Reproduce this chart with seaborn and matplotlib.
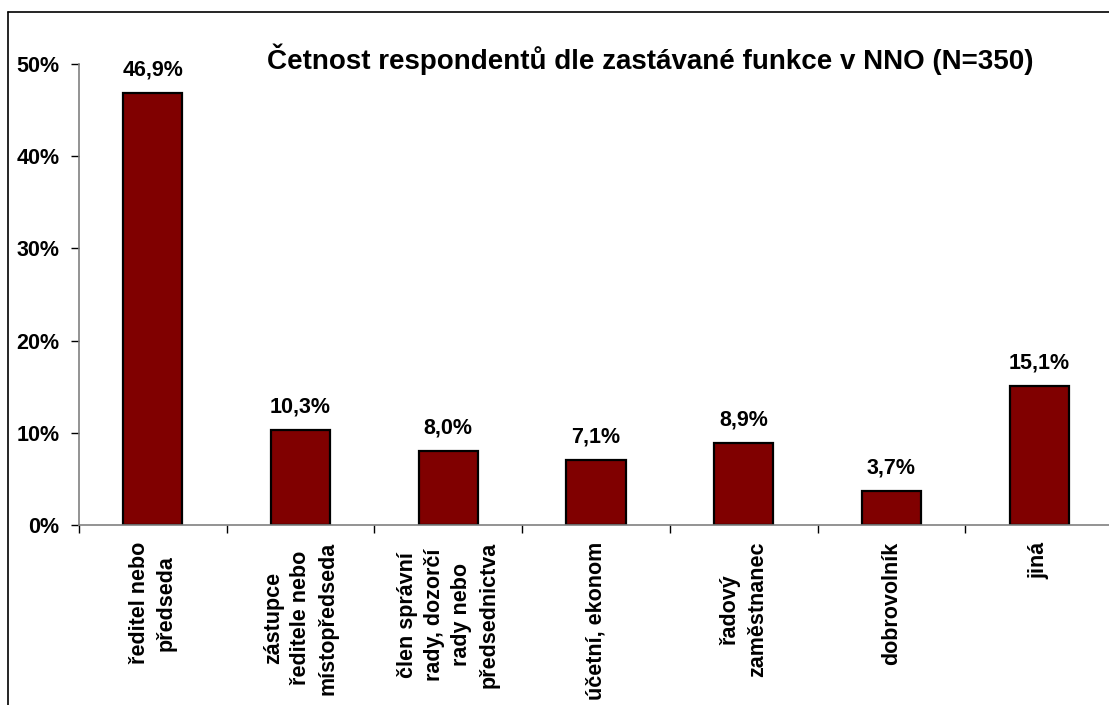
import matplotlib
matplotlib.use("Agg")
import matplotlib.pyplot as plt
import seaborn as sns
from matplotlib.lines import Line2D
from matplotlib.ticker import FixedLocator

# --- data ---
categories = [
    "ředitel nebo\npředseda",
    "zástupce\nředitele nebo\nmístopředseda",
    "člen správní\nrady, dozorčí\nrady nebo\npředsednictva",
    "účetní, ekonom",
    "řadový\nzaměstnanec",
    "dobrovolník",
    "jiná",
]
values = [46.9, 10.3, 8.0, 7.1, 8.9, 3.7, 15.1]
y_ticks = [0, 10, 20, 30, 40, 50]
title = "Četnost respondentů dle zastávané funkce v NNO (N=350)"

sns.set_style("white")
plt.rcParams['font.family'] = ['Liberation Sans', 'DejaVu Sans']
plt.rcParams['font.weight'] = 'bold'
plt.rcParams['text.color'] = 'black'
plt.rcParams['xtick.color'] = 'black'
plt.rcParams['ytick.color'] = 'black'

fig = plt.figure(figsize=(11.09, 7.05), dpi=100)
ax = fig.add_axes([79 / 1109, 180 / 705, 1034 / 1109, 461 / 705])

sns.barplot(x=categories, y=values, color="#800000", saturation=1,
            width=0.4, edgecolor="black", linewidth=1.6, ax=ax)

ax.set_ylim(0, 50)
ax.set_xlim(-0.5, len(categories) - 0.5)
ax.set_yticks(y_ticks)
ax.set_yticklabels([f"{t}%" for t in y_ticks], fontsize=15.5, fontweight='bold')
ax.set_xticks(range(len(categories)))
ax.set_xticklabels(categories, rotation=90, fontsize=15.5, fontweight='bold',
                   linespacing=1.38, ha='center', va='top')
ax.xaxis.set_minor_locator(FixedLocator([i - 0.5 for i in range(len(categories) + 1)]))
ax.tick_params(axis='x', which='major', bottom=True, length=0, pad=12)
ax.tick_params(axis='x', which='minor', bottom=True, length=6, width=1,
               color='black', direction='out')
ax.tick_params(axis='y', left=True, length=6, width=1, color='black',
               direction='out', pad=8)
ax.set_xlabel("")
ax.set_ylabel("")

for side in ['top', 'right']:
    ax.spines[side].set_visible(False)
for side in ['left', 'bottom']:
    ax.spines[side].set_color('#808080')
    ax.spines[side].set_linewidth(1.2)

ax.bar_label(ax.containers[0], labels=[f"{v:.1f}%".replace('.', ',') for v in values],
             padding=9, fontsize=15.5, fontweight='bold')

fig.text(0.586, 0.916, title, ha='center', va='center', fontsize=20, fontweight='bold')

# outer chart frame
x0, y0 = 8 / 1109, 1 - 12 / 705
fig.add_artist(Line2D([x0, 1], [y0, y0], color='black', linewidth=1.2, transform=fig.transFigure))
fig.add_artist(Line2D([x0, x0], [y0, 0], color='black', linewidth=1.2, transform=fig.transFigure))

fig.savefig("out.png", dpi=100)
